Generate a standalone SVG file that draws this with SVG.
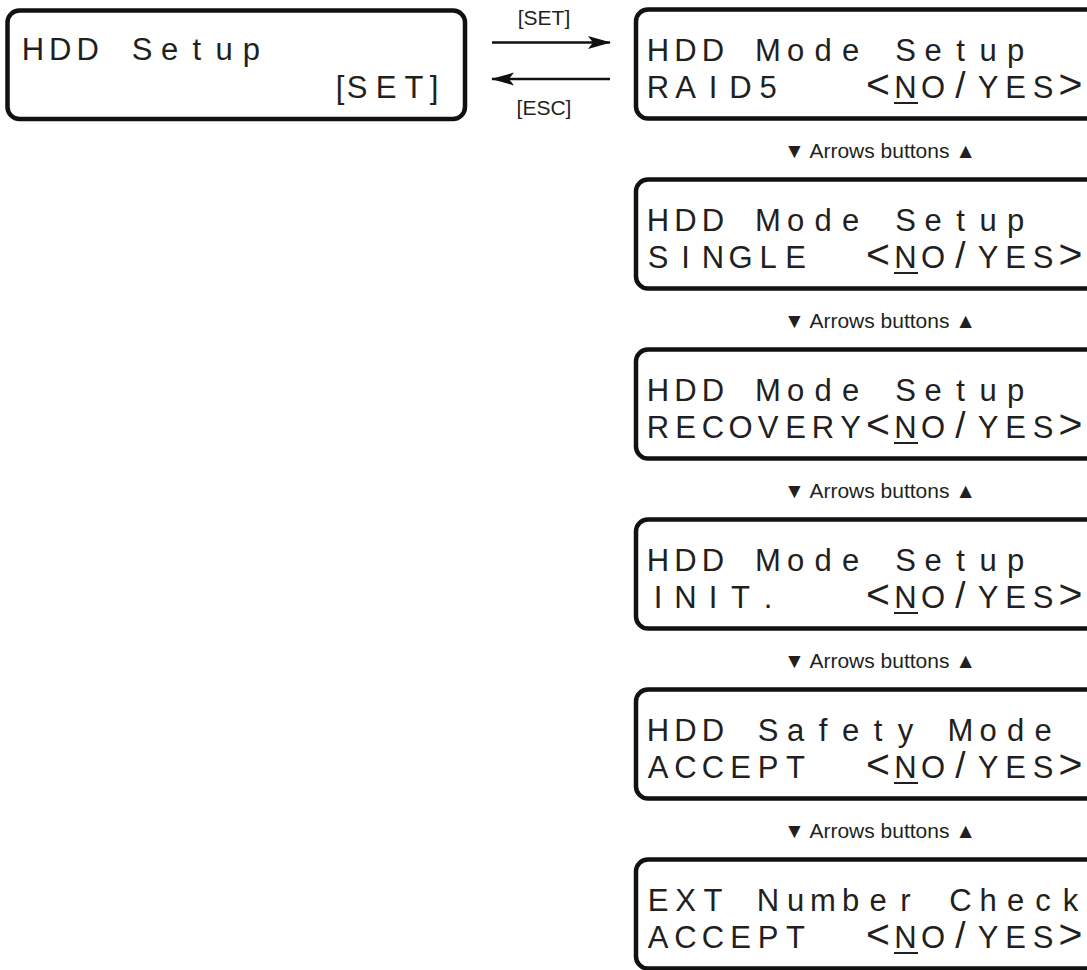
<svg xmlns="http://www.w3.org/2000/svg" width="1087" height="970" viewBox="0 0 1087 970">
<style>
.box{fill:#fff;stroke:#111;stroke-width:4.5}
.lcd{font-family:"Liberation Sans",Arial,sans-serif;font-size:31px;fill:#231f20;text-anchor:middle}
.big{font-size:41px}
.sl{font-size:37px}
.lbl{font-family:"Liberation Sans",Arial,sans-serif;font-size:21px;fill:#231f20;text-anchor:middle}
.nav{font-family:"Liberation Sans","DejaVu Sans",sans-serif;font-size:21px;fill:#231f20;text-anchor:middle}
.ul{stroke:#231f20;stroke-width:2}
.conn{stroke:#111;stroke-width:2.5;fill:none}
</style>
<defs>
<marker id="ah" markerUnits="userSpaceOnUse" markerWidth="24" markerHeight="14" refX="22" refY="7" orient="auto">
<path d="M0,0.5 L23,7 L0,13.5 L5,7 Z" fill="#111"/>
</marker>
</defs>
<rect width="1087" height="970" fill="#fff"/>

<g id="node-hdd-setup">
<rect class="box" x="7.5" y="10.5" width="457.5" height="108.5" rx="12"/>
<text class="lcd" xml:space="preserve" x="33 60.3 87.6 114.9 142.2 169.5 196.8 224.1 251.4" y="60">HDD Setup</text>
<text class="lcd" x="340 357 386 414 434" y="98">[SET]</text>
</g>

<g id="connectors">
<line class="conn" x1="492" y1="42.5" x2="610" y2="42.5" marker-end="url(#ah)"/>
<line class="conn" x1="610" y1="79" x2="492" y2="79" marker-end="url(#ah)"/>
<text class="lbl" x="544" y="25">[SET]</text>
<text class="lbl" x="544" y="115">[ESC]</text>
<text class="nav" x="880" y="158">▼ Arrows buttons ▲</text>
<text class="nav" x="880" y="328">▼ Arrows buttons ▲</text>
<text class="nav" x="880" y="498">▼ Arrows buttons ▲</text>
<text class="nav" x="880" y="668">▼ Arrows buttons ▲</text>
<text class="nav" x="880" y="838">▼ Arrows buttons ▲</text>
</g>

<g id="node-raid5">
<rect class="box" x="636" y="9.5" width="480" height="109" rx="12"/>
<text class="lcd" xml:space="preserve" x="658 685.5 713 740.5 768 795.5 823 850.5 878 905.5 933 960.5 988 1015.5" y="61">HDD Mode Setup</text>
<text class="lcd" xml:space="preserve" x="658 685.5 713 740.5 768 795.5 823 850.5 878 905.5 933 960.5 988 1015.5 1043 1070.5" y="98">RAID5   <tspan class="big">&lt;</tspan>NO<tspan class="sl">/</tspan>YES<tspan class="big">&gt;</tspan></text>
<line class="ul" x1="894" y1="103" x2="918" y2="103"/>
</g>

<g id="node-single">
<rect class="box" x="636" y="179.5" width="480" height="109" rx="12"/>
<text class="lcd" xml:space="preserve" x="658 685.5 713 740.5 768 795.5 823 850.5 878 905.5 933 960.5 988 1015.5" y="231">HDD Mode Setup</text>
<text class="lcd" xml:space="preserve" x="658 685.5 713 740.5 768 795.5 823 850.5 878 905.5 933 960.5 988 1015.5 1043 1070.5" y="268">SINGLE  <tspan class="big">&lt;</tspan>NO<tspan class="sl">/</tspan>YES<tspan class="big">&gt;</tspan></text>
<line class="ul" x1="894" y1="273" x2="918" y2="273"/>
</g>

<g id="node-recovery">
<rect class="box" x="636" y="349.5" width="480" height="109" rx="12"/>
<text class="lcd" xml:space="preserve" x="658 685.5 713 740.5 768 795.5 823 850.5 878 905.5 933 960.5 988 1015.5" y="401">HDD Mode Setup</text>
<text class="lcd" xml:space="preserve" x="658 685.5 713 740.5 768 795.5 823 850.5 878 905.5 933 960.5 988 1015.5 1043 1070.5" y="438">RECOVERY<tspan class="big">&lt;</tspan>NO<tspan class="sl">/</tspan>YES<tspan class="big">&gt;</tspan></text>
<line class="ul" x1="894" y1="443" x2="918" y2="443"/>
</g>

<g id="node-init">
<rect class="box" x="636" y="519.5" width="480" height="109" rx="12"/>
<text class="lcd" xml:space="preserve" x="658 685.5 713 740.5 768 795.5 823 850.5 878 905.5 933 960.5 988 1015.5" y="571">HDD Mode Setup</text>
<text class="lcd" xml:space="preserve" x="658 685.5 713 740.5 768 795.5 823 850.5 878 905.5 933 960.5 988 1015.5 1043 1070.5" y="608">INIT.   <tspan class="big">&lt;</tspan>NO<tspan class="sl">/</tspan>YES<tspan class="big">&gt;</tspan></text>
<line class="ul" x1="894" y1="613" x2="918" y2="613"/>
</g>

<g id="node-safety">
<rect class="box" x="636" y="689.5" width="480" height="109" rx="12"/>
<text class="lcd" xml:space="preserve" x="658 685.5 713 740.5 768 795.5 823 850.5 878 905.5 933 960.5 988 1015.5 1043" y="741">HDD Safety Mode</text>
<text class="lcd" xml:space="preserve" x="658 685.5 713 740.5 768 795.5 823 850.5 878 905.5 933 960.5 988 1015.5 1043 1070.5" y="778">ACCEPT  <tspan class="big">&lt;</tspan>NO<tspan class="sl">/</tspan>YES<tspan class="big">&gt;</tspan></text>
<line class="ul" x1="894" y1="783" x2="918" y2="783"/>
</g>

<g id="node-ext">
<rect class="box" x="636" y="859.5" width="480" height="109" rx="12"/>
<text class="lcd" xml:space="preserve" x="658 685.5 713 740.5 768 795.5 823 850.5 878 905.5 933 960.5 988 1015.5 1043 1070.5" y="911">EXT Number Check</text>
<text class="lcd" xml:space="preserve" x="658 685.5 713 740.5 768 795.5 823 850.5 878 905.5 933 960.5 988 1015.5 1043 1070.5" y="948">ACCEPT  <tspan class="big">&lt;</tspan>NO<tspan class="sl">/</tspan>YES<tspan class="big">&gt;</tspan></text>
<line class="ul" x1="894" y1="953" x2="918" y2="953"/>
</g>
</svg>
